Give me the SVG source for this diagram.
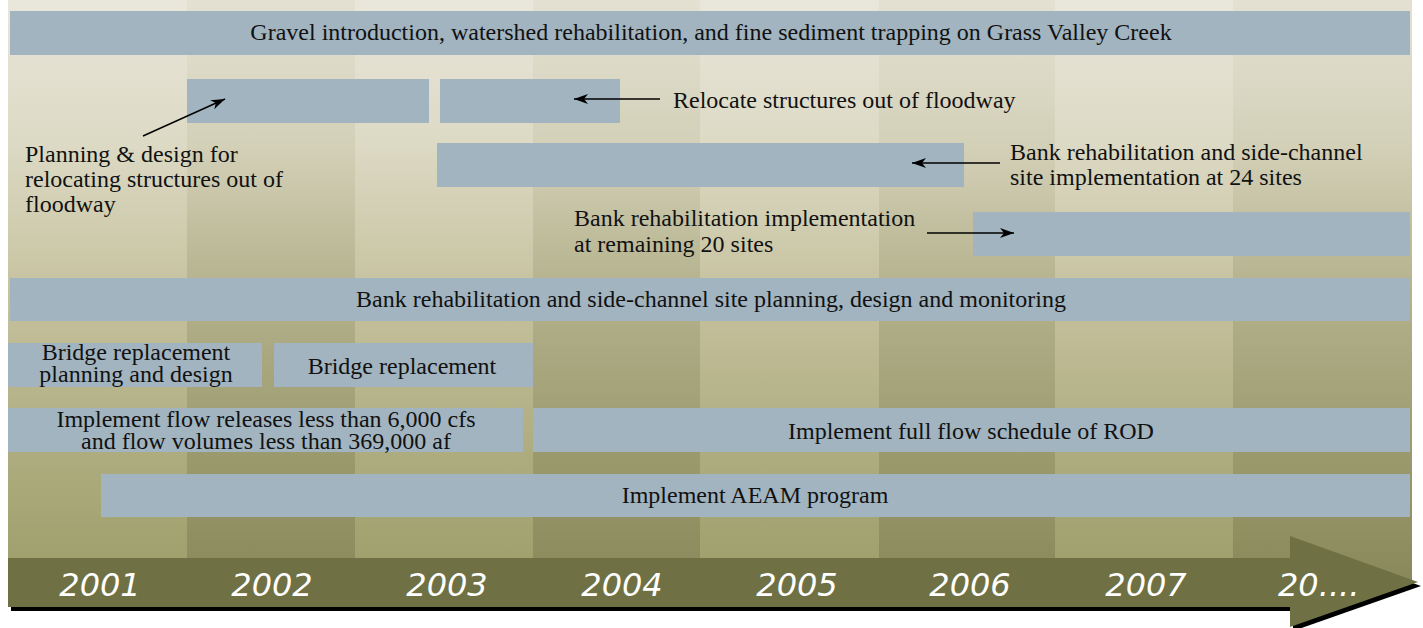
<svg xmlns="http://www.w3.org/2000/svg" width="1423" height="628" viewBox="0 0 1423 628">
<defs>
<linearGradient id="gLight" gradientUnits="userSpaceOnUse" x1="0" y1="0" x2="0" y2="585">
<stop offset="0" stop-color="#e9e6db"/>
<stop offset="0.25" stop-color="#dcd9c4"/>
<stop offset="0.5" stop-color="#c6c29f"/>
<stop offset="0.75" stop-color="#b0ae82"/>
<stop offset="1" stop-color="#9c9e69"/>
</linearGradient>
<linearGradient id="gDark" gradientUnits="userSpaceOnUse" x1="0" y1="0" x2="0" y2="585">
<stop offset="0" stop-color="#e4e1d3"/>
<stop offset="0.25" stop-color="#d3d0b8"/>
<stop offset="0.5" stop-color="#b4b18c"/>
<stop offset="0.75" stop-color="#9d9c70"/>
<stop offset="1" stop-color="#88895a"/>
</linearGradient>
<marker id="ah" markerUnits="userSpaceOnUse" markerWidth="16" markerHeight="12" refX="14" refY="5" orient="auto" viewBox="0 0 16 12">
<path d="M0,0 L14,5 L0,10 L4,5 Z" fill="#000"/>
</marker>
</defs>
<style>
.bar{fill:#a1b4c0}
.t{font-family:"Liberation Serif","Times New Roman",serif;font-size:24px;fill:#111}
.c{text-anchor:middle}
.yr{font-family:"DejaVu Sans",sans-serif;font-style:italic;font-weight:200;font-size:32px;fill:#fff;text-anchor:middle}
.con{stroke:#000;stroke-width:1.4;fill:none;marker-end:url(#ah)}
</style>
<rect width="1423" height="628" fill="#fff"/>
<g id="background">
<rect x="8" y="0" width="179" height="585" fill="url(#gLight)"/>
<rect x="187" y="0" width="168" height="585" fill="url(#gDark)"/>
<rect x="355" y="0" width="178" height="585" fill="url(#gLight)"/>
<rect x="533" y="0" width="167" height="585" fill="url(#gDark)"/>
<rect x="700" y="0" width="179" height="585" fill="url(#gLight)"/>
<rect x="879" y="0" width="176" height="585" fill="url(#gDark)"/>
<rect x="1055" y="0" width="178" height="585" fill="url(#gLight)"/>
<rect x="1233" y="0" width="179" height="585" fill="url(#gDark)"/>
</g>
<g id="timeline">
<rect x="11" y="562" width="1282" height="49" fill="#000"/>
<polygon points="1293,540 1421,586 1293,631" fill="#000"/>
<rect x="8" y="558" width="1282" height="49" fill="#6f7144"/>
<polygon points="1290,536 1418,582 1290,627" fill="#6f7144"/>
<text class="yr" x="100" y="596">2001</text>
<text class="yr" x="272" y="596">2002</text>
<text class="yr" x="447" y="596">2003</text>
<text class="yr" x="622" y="596">2004</text>
<text class="yr" x="797" y="596">2005</text>
<text class="yr" x="970" y="596">2006</text>
<text class="yr" x="1146" y="596">2007</text>
<text class="yr" x="1278" y="596" style="text-anchor:start">20....</text>
</g>
<g id="gravel">
<rect class="bar" x="10" y="11" width="1400" height="44"/>
<text class="t c" x="711" y="40">Gravel introduction, watershed rehabilitation, and fine sediment trapping on Grass Valley Creek</text>
</g>
<g id="planning-relocate">
<rect class="bar" x="187" y="79" width="242" height="44"/>
<text class="t" x="25" y="162">Planning &amp; design for<tspan x="25" dy="25">relocating structures out of</tspan><tspan x="25" dy="25">floodway</tspan></text>
</g>
<g id="relocate">
<rect class="bar" x="440" y="79" width="180" height="44"/>
<text class="t" x="673" y="108">Relocate structures out of floodway</text>
</g>
<g id="bank-24">
<rect class="bar" x="437" y="143" width="527" height="44"/>
<text class="t" x="1010" y="160">Bank rehabilitation and side-channel<tspan x="1010" dy="25">site implementation at 24 sites</tspan></text>
</g>
<g id="bank-20">
<rect class="bar" x="973" y="212" width="437" height="44"/>
<text class="t" x="574" y="226">Bank rehabilitation implementation<tspan x="574" dy="26">at remaining 20 sites</tspan></text>
</g>
<g id="bank-planning">
<rect class="bar" x="10" y="278" width="1400" height="43"/>
<text class="t c" x="711" y="307">Bank rehabilitation and side-channel site planning, design and monitoring</text>
</g>
<g id="bridge-planning">
<rect class="bar" x="8" y="343" width="254" height="44"/>
<text class="t c" x="136" y="360">Bridge replacement<tspan x="136" dy="22">planning and design</tspan></text>
</g>
<g id="bridge">
<rect class="bar" x="274" y="343" width="259" height="44"/>
<text class="t c" x="402" y="374">Bridge replacement</text>
</g>
<g id="flow-limited">
<rect class="bar" x="8" y="408" width="515" height="44"/>
<text class="t c" x="266" y="427">Implement flow releases less than 6,000 cfs<tspan x="266" dy="22">and flow volumes less than 369,000 af</tspan></text>
</g>
<g id="flow-full">
<rect class="bar" x="533" y="408" width="877" height="44"/>
<text class="t c" x="971" y="439">Implement full flow schedule of ROD</text>
</g>
<g id="aeam">
<rect class="bar" x="101" y="474" width="1309" height="43"/>
<text class="t c" x="755" y="503">Implement AEAM program</text>
</g>
<g id="connectors">
<line class="con" x1="143" y1="136" x2="225" y2="99"/>
<line class="con" x1="660" y1="99" x2="574" y2="99"/>
<line class="con" x1="1000" y1="163" x2="912" y2="163"/>
<line class="con" x1="927" y1="233" x2="1014" y2="233"/>
</g>
</svg>
